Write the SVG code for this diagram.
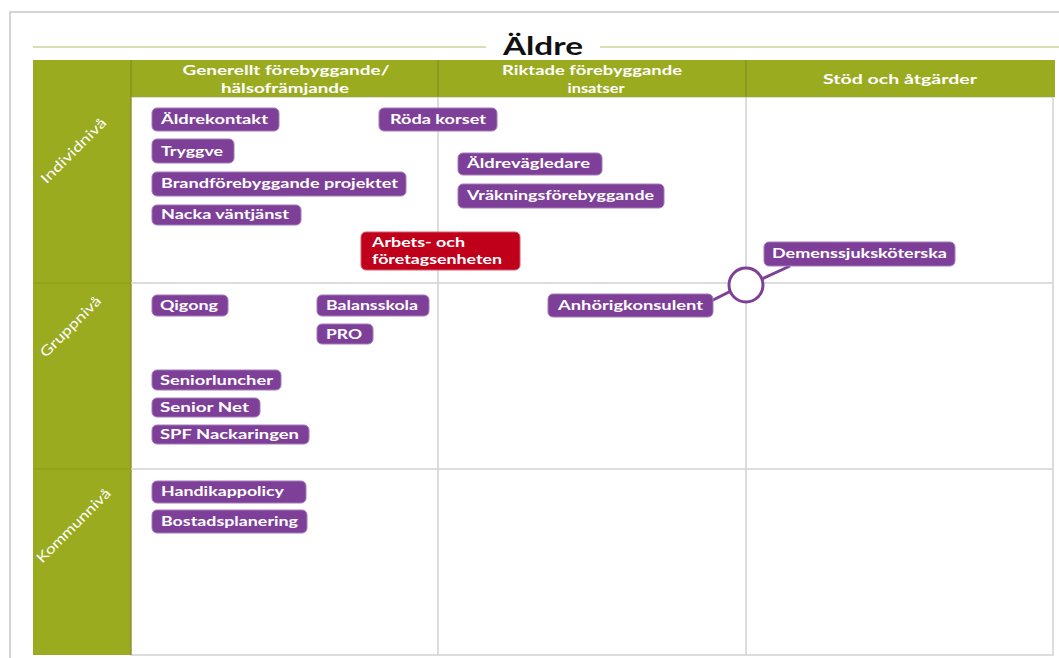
<svg xmlns="http://www.w3.org/2000/svg" width="1059" height="658" viewBox="0 0 1059 658">
<style>
.n rect{fill:#7d3f98;stroke:#a47bb8;stroke-width:1}
.n text,.r text{font-family:Lato,"Open Sans",sans-serif;font-weight:bold;font-size:13px;fill:#fff}
.r rect{fill:#c0001a;stroke:#d95a6a;stroke-width:1}
.h{font-family:Lato,"Open Sans",sans-serif;font-weight:bold;font-size:14px;fill:#fff;text-anchor:middle}
.rl{font-family:Lato,"Open Sans",sans-serif;font-size:14px;fill:#fff;text-anchor:middle}
.g{stroke:#d2d2d2;stroke-width:1.5;fill:none}
</style>
<rect width="1059" height="658" fill="#fff"/>
<path d="M10 658V12H1059" fill="none" stroke="#c8c8c8" stroke-width="1.5"/>
<g id="title">
<line x1="33" y1="47" x2="486" y2="47" stroke="#c9d69b" stroke-width="1.5"/>
<line x1="600" y1="47" x2="1059" y2="47" stroke="#c9d69b" stroke-width="1.5"/>
<text x="543" y="55" text-anchor="middle" font-family="Lato,'Open Sans',sans-serif" font-weight="bold" font-size="25" fill="#111" textLength="80" lengthAdjust="spacingAndGlyphs">Äldre</text>
</g>
<g id="table">
<rect x="131" y="97" width="922" height="558" fill="#fff" stroke="#d2d2d2" stroke-width="1.5"/>
<rect x="33" y="60" width="1022" height="37" fill="#9aab20"/>
<rect x="33" y="60" width="98" height="595" fill="#9aab20"/>
<line x1="131" y1="60" x2="131" y2="655" stroke="#7c8a18" stroke-width="1"/>
<line x1="438" y1="60" x2="438" y2="97" stroke="#7c8a18" stroke-width="1"/>
<line x1="746" y1="60" x2="746" y2="97" stroke="#7c8a18" stroke-width="1"/>
<line x1="33" y1="283" x2="131" y2="283" stroke="#8a9a1a" stroke-width="1"/>
<line x1="33" y1="469" x2="131" y2="469" stroke="#8a9a1a" stroke-width="1"/>
<line class="g" x1="438" y1="97" x2="438" y2="655"/>
<line class="g" x1="746" y1="97" x2="746" y2="655"/>
<line class="g" x1="131" y1="283" x2="1053" y2="283"/>
<line class="g" x1="131" y1="469" x2="1053" y2="469"/>
<text class="h" x="286" y="75" textLength="207" lengthAdjust="spacingAndGlyphs">Generellt förebyggande/</text>
<text class="h" x="285" y="93" textLength="128" lengthAdjust="spacingAndGlyphs">hälsofrämjande</text>
<text class="h" x="592" y="75" textLength="180" lengthAdjust="spacingAndGlyphs">Riktade förebyggande</text>
<text class="h" x="596" y="93" textLength="57" lengthAdjust="spacingAndGlyphs">insatser</text>
<text class="h" x="900" y="84" textLength="154" lengthAdjust="spacingAndGlyphs">Stöd och åtgärder</text>
<text class="rl" transform="translate(77 154) rotate(-45)" textLength="86" lengthAdjust="spacingAndGlyphs">Individnivå</text>
<text class="rl" transform="translate(74 330) rotate(-45)" textLength="80" lengthAdjust="spacingAndGlyphs">Gruppnivå</text>
<text class="rl" transform="translate(77 529) rotate(-45)" textLength="98" lengthAdjust="spacingAndGlyphs">Kommunnivå</text>
</g>
<g id="connectors">
<line x1="711" y1="301" x2="731" y2="291" stroke="#7d3f98" stroke-width="3"/>
<line x1="762" y1="279" x2="790" y2="266" stroke="#7d3f98" stroke-width="3"/>
<circle cx="746" cy="285" r="17" fill="#fff" stroke="#7d3f98" stroke-width="3"/>
</g>
<g id="n1" class="n"><rect x="152" y="108" width="127" height="23" rx="5"/><text x="161" y="124" textLength="107" lengthAdjust="spacingAndGlyphs">Äldrekontakt</text></g>
<g id="n2" class="n"><rect x="379" y="108" width="118" height="23" rx="5"/><text x="390" y="124" textLength="96" lengthAdjust="spacingAndGlyphs">Röda korset</text></g>
<g id="n3" class="n"><rect x="152" y="139" width="82" height="24" rx="5"/><text x="161" y="156" textLength="62" lengthAdjust="spacingAndGlyphs">Tryggve</text></g>
<g id="n4" class="n"><rect x="152" y="172" width="254" height="24" rx="5"/><text x="161" y="188" textLength="237" lengthAdjust="spacingAndGlyphs">Brandförebyggande projektet</text></g>
<g id="n5" class="n"><rect x="152" y="205" width="149" height="20" rx="5"/><text x="161" y="219" textLength="128" lengthAdjust="spacingAndGlyphs">Nacka väntjänst</text></g>
<g id="n6" class="r"><rect x="361" y="232" width="159" height="38" rx="5"/><text x="372" y="247" textLength="93" lengthAdjust="spacingAndGlyphs">Arbets- och</text><text x="372" y="264" textLength="130" lengthAdjust="spacingAndGlyphs">företagsenheten</text></g>
<g id="n7" class="n"><rect x="458" y="153" width="144" height="22" rx="5"/><text x="467" y="168" textLength="123" lengthAdjust="spacingAndGlyphs">Äldrevägledare</text></g>
<g id="n8" class="n"><rect x="458" y="184" width="206" height="24" rx="5"/><text x="467" y="200" textLength="187" lengthAdjust="spacingAndGlyphs">Vräkningsförebyggande</text></g>
<g id="n9" class="n"><rect x="764" y="242" width="191" height="24" rx="5"/><text x="772" y="258" textLength="175" lengthAdjust="spacingAndGlyphs">Demenssjuksköterska</text></g>
<g id="n10" class="n"><rect x="548" y="294" width="165" height="23" rx="5"/><text x="558" y="310" textLength="145" lengthAdjust="spacingAndGlyphs">Anhörigkonsulent</text></g>
<g id="n11" class="n"><rect x="152" y="295" width="76" height="21" rx="5"/><text x="160" y="310" textLength="58" lengthAdjust="spacingAndGlyphs">Qigong</text></g>
<g id="n12" class="n"><rect x="317" y="295" width="112" height="21" rx="5"/><text x="326" y="310" textLength="92" lengthAdjust="spacingAndGlyphs">Balansskola</text></g>
<g id="n13" class="n"><rect x="317" y="324" width="56" height="20" rx="5"/><text x="326" y="339" textLength="36" lengthAdjust="spacingAndGlyphs">PRO</text></g>
<g id="n14" class="n"><rect x="152" y="370" width="129" height="20" rx="5"/><text x="160" y="385" textLength="113" lengthAdjust="spacingAndGlyphs">Seniorluncher</text></g>
<g id="n15" class="n"><rect x="152" y="398" width="108" height="19" rx="5"/><text x="160" y="412" textLength="89" lengthAdjust="spacingAndGlyphs">Senior Net</text></g>
<g id="n16" class="n"><rect x="152" y="425" width="157" height="19" rx="5"/><text x="160" y="439" textLength="139" lengthAdjust="spacingAndGlyphs">SPF Nackaringen</text></g>
<g id="n17" class="n"><rect x="152" y="481" width="154" height="22" rx="5"/><text x="161" y="496" textLength="123" lengthAdjust="spacingAndGlyphs">Handikappolicy</text></g>
<g id="n18" class="n"><rect x="152" y="510" width="155" height="23" rx="5"/><text x="161" y="526" textLength="137" lengthAdjust="spacingAndGlyphs">Bostadsplanering</text></g>
</svg>
